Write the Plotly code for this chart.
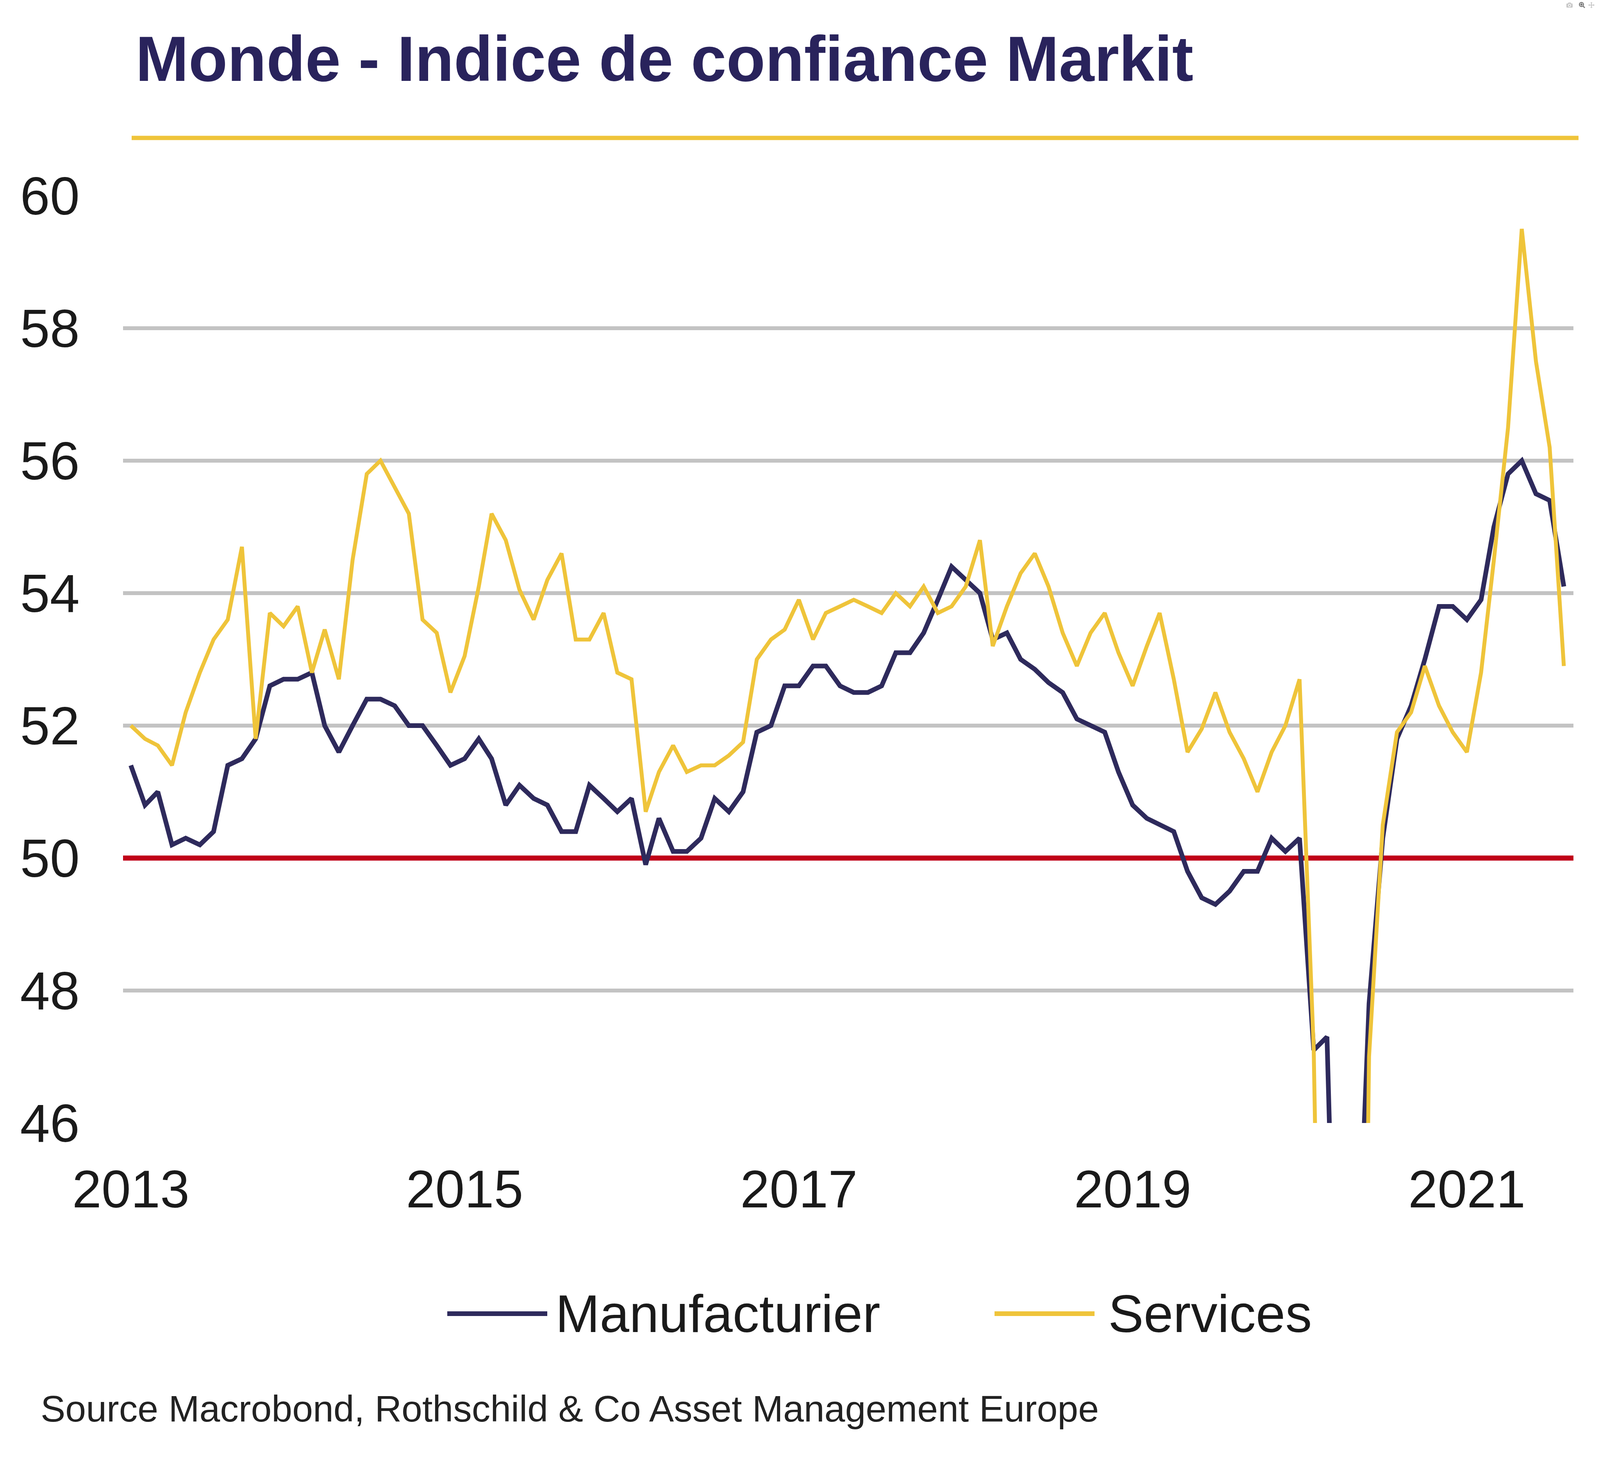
import pandas as pd
import plotly.graph_objects as go

# monthly values, Jan 2013 - Aug 2021
start_month = "2013-01-01"
n_months = 104

manufacturier = [
    51.4, 50.8, 51.0, 50.2, 50.3, 50.2, 50.4, 51.4, 51.5, 51.8, 52.6, 52.7,
    52.7, 52.8, 52.0, 51.6, 52.0, 52.4, 52.4, 52.3, 52.0, 52.0, 51.7, 51.4,
    51.5, 51.8, 51.5, 50.8, 51.1, 50.9, 50.8, 50.4, 50.4, 51.1, 50.9, 50.7,
    50.9, 49.9, 50.6, 50.1, 50.1, 50.3, 50.9, 50.7, 51.0, 51.9, 52.0, 52.6,
    52.6, 52.9, 52.9, 52.6, 52.5, 52.5, 52.6, 53.1, 53.1, 53.4, 53.9, 54.4,
    54.2, 54.0, 53.3, 53.4, 53.0, 52.85, 52.65, 52.5, 52.1, 52.0, 51.9, 51.3,
    50.8, 50.6, 50.5, 50.4, 49.8, 49.4, 49.3, 49.5, 49.8, 49.8, 50.3, 50.1,
    50.3, 47.1, 47.3, 39.6, 42.4, 47.8, 50.3, 51.8, 52.3, 53.0, 53.8, 53.8,
    53.6, 53.9, 55.0, 55.8, 56.0, 55.5, 55.4, 54.1,
]

services = [
    52.0, 51.8, 51.7, 51.4, 52.2, 52.8, 53.3, 53.6, 54.7, 51.8, 53.7, 53.5,
    53.8, 52.8, 53.45, 52.7, 54.5, 55.8, 56.0, 55.6, 55.2, 53.6, 53.4, 52.5,
    53.05, 54.1, 55.2, 54.8, 54.05, 53.6, 54.2, 54.6, 53.3, 53.3, 53.7, 52.8,
    52.7, 50.7, 51.3, 51.7, 51.3, 51.4, 51.4, 51.55, 51.75, 53.0, 53.3, 53.45,
    53.9, 53.3, 53.7, 53.8, 53.9, 53.8, 53.7, 54.0, 53.8, 54.1, 53.7, 53.8,
    54.1, 54.8, 53.2, 53.8, 54.3, 54.6, 54.1, 53.4, 52.9, 53.4, 53.7, 53.1,
    52.6, 53.2, 53.7, 52.7, 51.6, 51.95, 52.5, 51.9, 51.5, 51.0, 51.6, 52.0,
    52.7, 47.1, 37.0, 23.7, 30.5, 47.0, 50.5, 51.9, 52.2, 52.9, 52.3, 51.9,
    51.6, 52.8, 54.5, 56.5, 59.5, 57.5, 56.2, 52.9,
]

year_ticks = ["2013", "2015", "2017", "2019", "2021"]
y_ticks = [46, 48, 50, 52, 54, 56, 58, 60]
x_range = ["2012-12-15", "2021-08-22"]
threshold = 50

dates = pd.date_range(start_month, periods=n_months, freq="MS")

W, H = 4224, 3780
L, R, T, B = 315, 196, 501, 906
NAVY = "#2e2a5c"
YELLOW = "#efc43a"
FONT = "Liberation Sans, Arial, sans-serif"


def px_x(px):
    return (px - L) / (W - L - R)


def px_y(py):
    return (H - B - py) / (H - T - B)


fig = go.Figure()
# 50 threshold, drawn first so it sits over the grid but under the series
fig.add_trace(go.Scatter(x=x_range, y=[threshold, threshold], mode="lines",
                         line=dict(color="#c00018", width=13), hoverinfo="skip"))
fig.add_trace(go.Scatter(x=dates, y=manufacturier, mode="lines", name="Manufacturier",
                         line=dict(color=NAVY, width=12)))
fig.add_trace(go.Scatter(x=dates, y=services, mode="lines", name="Services",
                         line=dict(color=YELLOW, width=10)))

# decorative rule under the title
fig.add_shape(type="line", xref="paper", yref="paper", x0=px_x(337), x1=px_x(4041),
              y0=px_y(353), y1=px_y(353), line=dict(color=YELLOW, width=11))

# legend drawn by hand (long line samples)
legend_y = 3362
for x0, x1, col, label, tx in [(1145, 1401, NAVY, "Manufacturier", 1420),
                               (2546, 2802, YELLOW, "Services", 2835)]:
    fig.add_shape(type="line", xref="paper", yref="paper", x0=px_x(x0), x1=px_x(x1),
                  y0=px_y(legend_y), y1=px_y(legend_y), line=dict(color=col, width=12))
    fig.add_annotation(x=px_x(tx), y=px_y(legend_y), xref="paper", yref="paper",
                       text=label, showarrow=False, xanchor="left", yanchor="middle",
                       font=dict(family=FONT, size=136, color="#1a1a1a"))

fig.add_annotation(x=px_x(345), y=px_y(151), xref="paper", yref="paper",
                   text="<b>Monde - Indice de confiance Markit</b>", showarrow=False,
                   xanchor="left", yanchor="middle",
                   font=dict(family=FONT, size=163, color="#29235c"))
fig.add_annotation(x=px_x(102), y=px_y(3605), xref="paper", yref="paper",
                   text="Source Macrobond, Rothschild & Co Asset Management Europe",
                   showarrow=False, xanchor="left", yanchor="middle",
                   font=dict(family=FONT, size=95, color="#222222"))

fig.update_layout(
    width=W, height=H,
    margin=dict(l=L, r=R, t=T, b=B),
    plot_bgcolor="white", paper_bgcolor="white",
    showlegend=False,
    font=dict(family=FONT, size=134, color="#1a1a1a"),
)
fig.update_xaxes(
    range=x_range,
    tickvals=[y + "-01-01" for y in year_ticks], ticktext=year_ticks,
    showgrid=False, zeroline=False, showline=False,
    ticks="", ticklabelstandoff=80,
    tickfont=dict(family=FONT, size=135, color="#1a1a1a"),
)
fig.update_yaxes(
    range=[46, 60], tickvals=y_ticks,
    showgrid=True, gridcolor="#c3c3c3", gridwidth=10,
    zeroline=False, showline=False, ticks="", ticklabelstandoff=110,
    tickfont=dict(family=FONT, size=137, color="#1a1a1a"),
)

fig.write_html("out.html", post_script="document.body.style.margin='0';")
